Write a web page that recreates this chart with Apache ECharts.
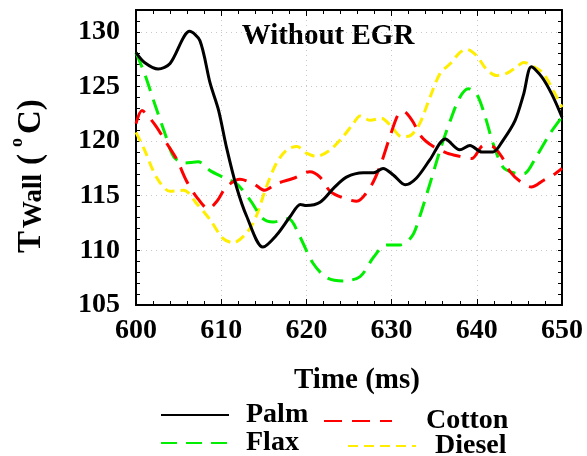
<!DOCTYPE html>
<html lang="en">
<head>
    <meta charset="UTF-8">
    <title>Twall without EGR</title>
    <script src="https://cdn.jsdelivr.net/npm/echarts@6/dist/echarts.min.js"></script>
    <style>
        html, body { margin: 0; padding: 0; background: #fff; }
        #main { width: 587px; height: 456px; }
    </style>
</head>
<body>
<div id="main"></div>
<script type="text/javascript">
    // values
    var palmTime = [600, 601, 602.6, 604, 606.3, 607.5, 608.7, 609.7, 610.6, 611.8, 613, 614.9, 616.5, 618.1, 619.3, 620, 621.6, 623.2, 624.7, 626.7, 627.9, 629, 630.2, 631.6, 632.9, 634.5, 636.3, 638, 639.2, 640.6, 641.9, 643.1, 644.5, 645.5, 646.4, 647.6, 648.8, 650];
    var palmTemp = [128.1, 127.2, 126.6, 127.1, 130.05, 129.2, 125.3, 122.8, 119.5, 115.8, 113.1, 110.3, 111.4, 113.1, 114.2, 114.1, 114.4, 115.7, 116.7, 117.1, 117.1, 117.5, 116.9, 116.0, 116.6, 118.3, 120.2, 119.2, 119.6, 119.0, 119.0, 120.1, 121.9, 124.3, 126.8, 125.9, 124.3, 122.2];

    var flaxTime = [600, 601, 602.2, 603.4, 604.4, 605.6, 607.3, 608.7, 610.2, 611.8, 613.4, 614.9, 616.1, 617.9, 619.2, 620.8, 622.4, 624.3, 626.3, 627.9, 629.4, 631, 632.4, 633.3, 634.5, 635.7, 636.9, 638, 639, 640, 641, 641.9, 643.1, 644.3, 645.5, 647, 648.6, 650];
    var flaxTemp = [128.1, 126.2, 123.4, 120.7, 118.6, 118.0, 118.1, 117.3, 116.7, 116.1, 114.6, 112.9, 112.6, 112.9, 111.3, 108.8, 107.5, 107.2, 107.6, 109.4, 110.5, 110.5, 111.3, 113.1, 116.1, 119.2, 121.9, 124.0, 124.8, 124.3, 122.2, 119.8, 117.6, 117.1, 117.0, 118.6, 120.7, 122.2];

    var cottonTime = [600, 600.7, 601.2, 602.4, 603.6, 604.8, 605.9, 607.1, 608.5, 609.5, 610.6, 612.2, 613.8, 615.1, 616.5, 618.5, 620.4, 621.6, 622.8, 624.3, 625.9, 627.5, 628.6, 629.8, 630.8, 631.4, 632.4, 633.5, 634.9, 636.5, 638, 639.4, 640.8, 641.9, 642.9, 643.9, 645.1, 646.4, 647.8, 649, 650];
    var cottonTemp = [121.6, 122.8, 122.5, 121.3, 119.8, 118.3, 116.4, 114.9, 113.8, 114.5, 115.8, 116.5, 116.1, 115.5, 116.1, 116.6, 117.2, 116.7, 115.4, 114.8, 114.5, 115.8, 117.6, 120.4, 122.5, 122.7, 121.9, 120.4, 119.5, 118.9, 118.6, 118.4, 119.6, 119.5, 118.6, 117.2, 116.3, 115.8, 116.4, 116.9, 117.5];

    var dieselTime = [600, 601, 602.4, 604, 605.6, 607.1, 608.7, 610.2, 611.4, 613, 614.1, 615.3, 616.5, 617.7, 618.9, 620, 621.2, 622.8, 624.3, 625.5, 626.3, 627.5, 628.8, 630, 631.2, 632.2, 633.3, 634.5, 635.7, 636.9, 638, 638.8, 640, 641.1, 642.3, 643.5, 644.7, 645.5, 646.7, 647.8, 649, 650];
    var dieselTemp = [120.8, 119.2, 116.7, 115.4, 115.5, 114.3, 112.8, 111.1, 110.7, 111.6, 113.1, 115.8, 118.0, 119.2, 119.5, 118.9, 118.6, 119.2, 120.4, 121.6, 122.3, 121.9, 122.1, 121.3, 120.4, 120.5, 121.6, 124.0, 126.2, 127.1, 128.1, 128.4, 127.8, 126.6, 126.0, 126.2, 126.8, 127.2, 126.8, 126.2, 124.6, 123.1];

    var fuelNames = ['Palm', 'Flax', 'Cotton', 'Diesel'];

    function pairs(xs, ys) {
        var out = [];
        for (var i = 0; i < xs.length; i++) out.push([xs[i], ys[i]]);
        return out;
    }

    var serif = "'Liberation Serif', 'Times New Roman', serif";
    var boldText = { fontFamily: serif, fontWeight: 'bold', color: '#000' };

    function legendAt(name, left, top, gap) {
        return {
            data: [name], left: left, top: top, orient: 'horizontal', padding: 0,
            itemWidth: 68, itemHeight: 14, selectedMode: false,
            itemStyle: { opacity: 0 },
            textStyle: { fontFamily: serif, fontWeight: 'bold', fontSize: 28, color: '#000', padding: [0, 0, 0, gap] }
        };
    }

    function tickAxis(pos) {
        return {
            type: 'value', position: pos, min: 105, max: 132, interval: 1,
            axisLine: { show: true, lineStyle: { color: '#000', width: 2 } },
            axisTick: { show: true, inside: true, length: 4, lineStyle: { color: '#000', width: 1 } },
            axisLabel: { show: false }, splitLine: { show: false }
        };
    }

    var chart = echarts.init(document.getElementById('main'));
    chart.setOption({
        animation: false,
        backgroundColor: '#fff',
        grid: { left: 136, right: 25, top: 10, bottom: 151 },
        legend: [
            legendAt('Palm', 160, 401, 12),
            legendAt('Cotton', 323, 407, 29),
            legendAt('Flax', 160, 429, 12),
            legendAt('Diesel', 347, 432, 14)
        ],
        xAxis: [{
            type: 'value', position: 'bottom', min: 600, max: 650, interval: 10,
            axisLine: { show: true, lineStyle: { color: '#000', width: 2 } },
            axisTick: { show: true, inside: true, length: 6, lineStyle: { color: '#000' } },
            minorTick: { show: true, splitNumber: 5, length: 4, lineStyle: { color: '#000' } },
            axisLabel: Object.assign({ fontSize: 28, margin: 12 }, boldText),
            splitLine: { show: true, lineStyle: { color: '#c8c8c8', type: [1, 4], width: 1 } }
        }, {
            type: 'value', position: 'top', min: 600, max: 650, interval: 10,
            axisLine: { show: true, lineStyle: { color: '#000', width: 2 } },
            axisTick: { show: true, inside: true, length: 6, lineStyle: { color: '#000' } },
            minorTick: { show: true, splitNumber: 5, length: 4, lineStyle: { color: '#000' } },
            axisLabel: { show: false }, splitLine: { show: false }
        }],
        yAxis: [{
            type: 'value', position: 'left', min: 105, max: 132, interval: 5,
            axisLine: { show: true, lineStyle: { color: '#000', width: 2 } },
            axisTick: { show: false },
            axisLabel: Object.assign({
                fontSize: 28, margin: 16,
                formatter: function (v) { return v % 5 === 0 ? String(v) : ''; }
            }, boldText),
            splitLine: { show: true, lineStyle: { color: '#c8c8c8', type: [1, 4], width: 1 } }
        }, tickAxis('left'), tickAxis('right')],
        graphic: [
            { type: 'text', x: 328, y: 37, style: Object.assign({ text: 'Without EGR', fontSize: 29, align: 'center', verticalAlign: 'middle' }, boldText) },
            { type: 'text', x: 357, y: 381, style: Object.assign({ text: 'Time (ms)', fontSize: 29, align: 'center', verticalAlign: 'middle' }, boldText) },
            // y axis title: T_Wall (oC), rotated, pieces placed by hand
            { type: 'text', x: 31, y: 253, rotation: Math.PI / 2, style: Object.assign({ text: 'T', fontSize: 33, align: 'left', verticalAlign: 'middle' }, boldText) },
            { type: 'text', x: 34, y: 228, rotation: Math.PI / 2, style: Object.assign({ text: 'Wall', fontSize: 27, align: 'left', verticalAlign: 'middle' }, boldText) },
            { type: 'text', x: 31, y: 165, rotation: Math.PI / 2, style: Object.assign({ text: '(', fontSize: 33, align: 'left', verticalAlign: 'middle' }, boldText) },
            { type: 'text', x: 17, y: 147, rotation: Math.PI / 2, style: Object.assign({ text: 'o', fontSize: 18, align: 'left', verticalAlign: 'middle' }, boldText) },
            { type: 'text', x: 31, y: 134, rotation: Math.PI / 2, style: Object.assign({ text: 'C)', fontSize: 33, align: 'left', verticalAlign: 'middle' }, boldText) }
        ],
        series: [{
            name: fuelNames[0], type: 'line', smooth: 0.3, symbol: 'none',
            data: pairs(palmTime, palmTemp), z: 5,
            lineStyle: { color: '#000', width: 3 }, itemStyle: { color: '#000' }
        }, {
            name: fuelNames[1], type: 'line', smooth: 0.3, symbol: 'none',
            data: pairs(flaxTime, flaxTemp), z: 3,
            lineStyle: { color: '#00ee00', width: 3, type: [16, 9] }, itemStyle: { color: '#00ee00' }
        }, {
            name: fuelNames[2], type: 'line', smooth: 0.3, symbol: 'none',
            data: pairs(cottonTime, cottonTemp), z: 4,
            lineStyle: { color: '#ff0000', width: 3, type: [18, 10] }, itemStyle: { color: '#ff0000' }
        }, {
            name: fuelNames[3], type: 'line', smooth: 0.3, symbol: 'none',
            data: pairs(dieselTime, dieselTemp), z: 2,
            lineStyle: { color: '#ffee00', width: 3, type: [10, 6] }, itemStyle: { color: '#ffee00' }
        }]
    });

    window.addEventListener('resize', function () {
        chart.resize();
    });
</script>
</body>
</html>
